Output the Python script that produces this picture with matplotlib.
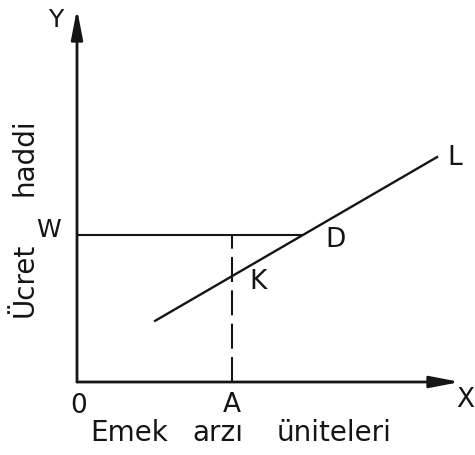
import numpy as np
import matplotlib
matplotlib.use("Agg")
import matplotlib.pyplot as plt

# diagram values (abstract units, origin at 0)
axis_len_x = 10.0
axis_len_y = 10.0
wage_level = 3.95      # W
labour_a = 4.05        # A
# labour supply curve L, end points
supply_x = [2.04, 9.40]
supply_y = [1.64, 6.03]

ink = "#151515"

fig = plt.figure(figsize=(4.75, 4.56), dpi=100)
ax = fig.add_axes([0, 0, 1, 1])
ax.set_xlim(-77 / 38.3, (475 - 77) / 38.3)
ax.set_ylim(-73 / 37.3, (456 - 73) / 37.3)
ax.axis("off")

# D: supply meets wage, K: supply at A
d_x = np.interp(wage_level, supply_y, supply_x)
k_y = np.interp(labour_a, supply_x, supply_y)

arrow = dict(arrowstyle="-|>,head_length=1.8,head_width=0.35", lw=2.0,
             color=ink, shrinkA=0, shrinkB=0, mutation_scale=10)
ax.annotate("", xy=(axis_len_x, 0), xytext=(0, 0), arrowprops=arrow)
ax.annotate("", xy=(0, axis_len_y), xytext=(0, 0), arrowprops=arrow)

ax.plot([0, d_x], [wage_level, wage_level], color=ink, lw=1.5, solid_capstyle="butt")
ax.plot(supply_x, supply_y, color=ink, lw=1.7)
ax.plot([labour_a, labour_a], [0, wage_level], color=ink, lw=1.5,
        dashes=(12, 4))

font = dict(family="DejaVu Sans", color=ink, ha="center", va="center")
ax.text(-0.55, axis_len_y - 0.27, "Y", fontsize=18, **font)
ax.text(-0.73, wage_level + 0.16, "W", fontsize=18, **font)
ax.text(0.05, -0.61, "0", fontsize=19, **font)
ax.text(labour_a, -0.59, "A", fontsize=19, **font)
ax.text(axis_len_x + 0.15, -0.46, "X", fontsize=19, **font)
ax.text(d_x + 0.83, wage_level - 0.12, "D", fontsize=19, **font)
ax.text(labour_a + 0.68, k_y - 0.13, "K", fontsize=19, **font)
ax.text(supply_x[1] + 0.47, supply_y[1], "L", fontsize=19, **font)

# axis titles, words spaced like the original
ax.text(1.36, -1.34, "Emek", fontsize=20, **font)
ax.text(3.68, -1.34, "arzı", fontsize=20, **font)
ax.text(6.71, -1.34, "üniteleri", fontsize=20, **font)
ax.text(-1.36, 2.76, "Ücret", fontsize=20, rotation=90, **font)
ax.text(-1.36, 6.06, "haddi", fontsize=20, rotation=90, **font)

fig.savefig("out.png", dpi=100, facecolor="white")
